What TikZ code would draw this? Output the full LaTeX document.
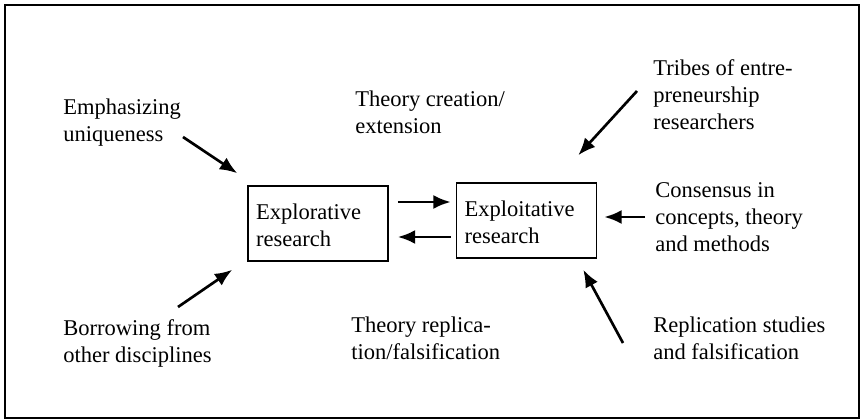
\documentclass[tikz,border=0pt]{standalone}
\usepackage{fontspec}
\setmainfont{Liberation Serif}
\usetikzlibrary{arrows.meta,calc}
\begin{document}
\begin{tikzpicture}[x=0.75pt,y=-0.75pt,
  txt/.style={font=\fontsize{16.9}{20.25}\selectfont, align=left, inner sep=0pt, anchor=north west},
  boxnode/.style={draw, line width=1.2pt, font=\fontsize{16.9}{20.25}\selectfont, align=left,
     text width=93pt, inner xsep=6pt, inner ysep=0pt, minimum height=56.25pt},
  arr/.style={line width=2pt, -{Latex[length=13pt,width=10.5pt]}}]
\useasboundingbox (0,0) rectangle (861,420);
\draw[line width=1.6pt] (5,5) rectangle (859,418);

\node[boxnode] (explor) at (318,223.5) {\strut Explorative\\research};
\node[boxnode] (exploit) at (526.5,220.5) {\strut Exploitative\\research};

\node[txt] (emph) at (63,95.1) {\strut Emphasizing\\uniqueness};
\node[txt] (tcre) at (355,87.1) {\strut Theory creation/\\extension};
\node[txt] (tribes) at (653,56.1) {\strut Tribes of entre-\\preneurship\\researchers};
\node[txt] (cons) at (655,178.1) {\strut Consensus in\\concepts, theory\\and methods};
\node[txt] (borrow) at (63,316.1) {\strut Borrowing from\\other disciplines};
\node[txt] (trep) at (351,313.1) {\strut Theory replica-\\tion/falsification};
\node[txt] (repl) at (653,313.1) {\strut Replication studies\\and falsification};

\coordinate (emphT) at (183,137);
\coordinate (borrowT) at (178,307);
\coordinate (tribesT) at (637,91);
\coordinate (consT) at (645,217);
\coordinate (replT) at (623,343);

\draw[arr] ($(explor.east)+(9,-21.5)$) -- ($(exploit.west)+(-5,-18.5)$);
\draw[arr] ($(exploit.west)+(-5,16.5)$) -- ($(explor.east)+(9,13.5)$);

\draw[arr] (emphT) -- ($(explor.north west)+(-10,-12)$);
\draw[arr] (borrowT) -- ($(explor.south west)+(-15,8)$);
\draw[arr] (tribesT) -- ($(exploit.north east)+(-19,-27)$);
\draw[arr] (consT) -- ($(exploit.east)+(7,-3.5)$);
\draw[arr] (replT) -- ($(exploit.south east)+(-14,11)$);
\end{tikzpicture}
\end{document}
